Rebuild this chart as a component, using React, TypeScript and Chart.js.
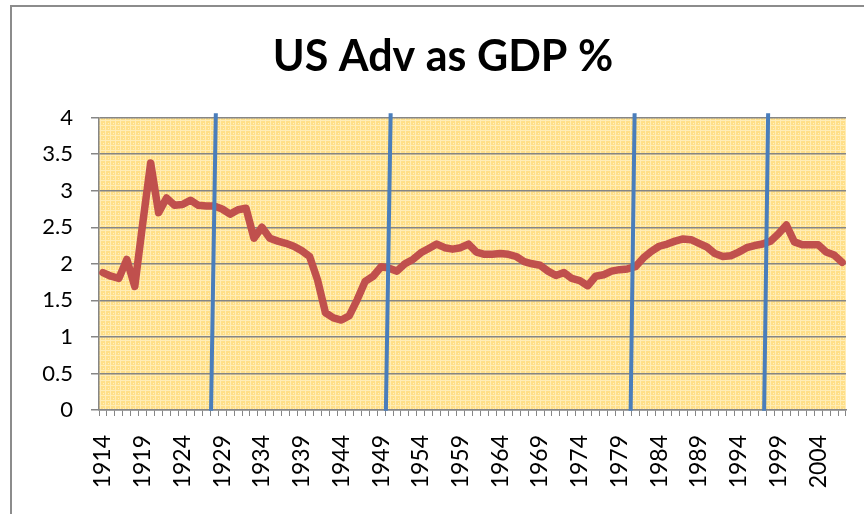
import React, { useEffect, useRef } from "react";
import { Chart, registerables } from "chart.js";

Chart.register(...registerables);

const START_YEAR = 1914;

// US advertising spending as % of GDP, 1914-2007
const adSharePct: number[] = [
  1.88, 1.83, 1.80, 2.06, 1.69, 2.55, 3.38, 2.70, 2.90, 2.80, // 1914-1923
  2.81, 2.87, 2.80, 2.79, 2.79, 2.75, 2.68, 2.74, 2.76, 2.35, // 1924-1933
  2.50, 2.35, 2.31, 2.28, 2.24, 2.18, 2.10, 1.78, 1.33, 1.26, // 1934-1943
  1.23, 1.29, 1.51, 1.76, 1.83, 1.96, 1.94, 1.90, 2.00, 2.06, // 1944-1953
  2.15, 2.21, 2.27, 2.22, 2.20, 2.22, 2.27, 2.16, 2.13, 2.13, // 1954-1963
  2.14, 2.13, 2.10, 2.03, 2.00, 1.98, 1.90, 1.84, 1.88, 1.80, // 1964-1973
  1.77, 1.70, 1.83, 1.85, 1.90, 1.92, 1.93, 1.96, 2.08, 2.17, // 1974-1983
  2.24, 2.27, 2.31, 2.34, 2.33, 2.28, 2.23, 2.14, 2.10, 2.11, // 1984-1993
  2.16, 2.22, 2.25, 2.27, 2.31, 2.41, 2.53, 2.30, 2.26, 2.26, // 1994-2003
  2.26, 2.16, 2.12, 2.02, // 2004-2007
];

const yearLabels: string[] = adSharePct.map((_, i) => String(START_YEAR + i));

// Hand-drawn vertical marker lines (slightly slanted), in year units
const markerTopYears = [1928.2, 1950.2, 1980.9, 1997.7];
const markerBottomYears = [1927.6, 1949.6, 1980.4, 1997.2];
const markerTopValue = 4.06;
const markerBottomValue = -0.01;

const Y_MIN = 0;
const Y_MAX = 4;
const Y_STEP = 0.5;
const LABEL_EVERY = 5;

function makePattern(ctx: CanvasRenderingContext2D): CanvasPattern | string {
  const c = document.createElement("canvas");
  c.width = 5;
  c.height = 5;
  const p = c.getContext("2d");
  if (!p) return "#FFE69C";
  p.fillStyle = "#FFDF88";
  p.fillRect(0, 0, 5, 5);
  p.fillStyle = "#FFEDB6";
  p.fillRect(0, 0, 5, 1);
  p.fillRect(0, 0, 1, 5);
  p.fillStyle = "#FFF0C2";
  p.fillRect(3, 3, 1, 1);
  return ctx.createPattern(c, "repeat") || "#FFE69C";
}

const backgroundPlugin = {
  id: "patternBg",
  beforeDraw(chart: any) {
    const { ctx, chartArea } = chart;
    if (!chartArea) return;
    ctx.save();
    ctx.fillStyle = makePattern(ctx);
    ctx.fillRect(chartArea.left, chartArea.top, chartArea.right - chartArea.left, chartArea.bottom - chartArea.top);
    ctx.restore();
  },
};

const markerPlugin = {
  id: "markerLines",
  afterDatasetsDraw(chart: any) {
    const { ctx } = chart;
    const xs = chart.scales.x;
    const ys = chart.scales.y;
    ctx.save();
    ctx.strokeStyle = "#4A7EBB";
    ctx.lineWidth = 4;
    ctx.lineCap = "butt";
    for (let i = 0; i < markerTopYears.length; i++) {
      const x1 = xs.getPixelForValue(markerTopYears[i] - START_YEAR);
      const x2 = xs.getPixelForValue(markerBottomYears[i] - START_YEAR);
      const y1 = ys.getPixelForValue(markerTopValue);
      const y2 = ys.getPixelForValue(markerBottomValue);
      ctx.beginPath();
      ctx.moveTo(x1, y1);
      ctx.lineTo(x2, y2);
      ctx.stroke();
    }
    ctx.restore();
  },
};

export default function App() {
  const canvasRef = useRef<HTMLCanvasElement | null>(null);

  useEffect(() => {
    const canvas = canvasRef.current;
    if (!canvas) return;
    const chart = new Chart(canvas, {
      type: "line",
      data: {
        labels: yearLabels,
        datasets: [
          {
            label: "US Adv as GDP %",
            data: adSharePct,
            borderColor: "#C0504D",
            backgroundColor: "#C0504D",
            borderWidth: 7.5,
            borderJoinStyle: "round",
            borderCapStyle: "round",
            pointRadius: 0,
            tension: 0,
            fill: false,
          },
        ],
      },
      options: {
        animation: false,
        responsive: false,
        maintainAspectRatio: false,
        devicePixelRatio: 1,
        layout: { padding: { left: 40, right: 18, top: 0, bottom: 0 } },
        plugins: {
          legend: { display: false },
          tooltip: { enabled: false },
          title: {
            display: true,
            text: "US Adv as GDP %",
            color: "#000000",
            font: { family: "Lato", size: 43, weight: "bold" },
            padding: { top: 31, bottom: 35 },
          },
        },
        scales: {
          x: {
            type: "category",
            offset: true,
            grid: {
              display: true,
              drawOnChartArea: false,
              drawTicks: true,
              tickLength: 6,
              color: "#868686",
              offset: true,
            },
            border: { display: true, color: "#868686", width: 1.5 },
            ticks: {
              autoSkip: false,
              maxRotation: 90,
              minRotation: 90,
              padding: 19,
              color: "#000000",
              font: { family: "Lato", size: 23 },
              callback: (_v: any, i: number) => (i % LABEL_EVERY === 0 ? yearLabels[i] : ""),
            },
            afterFit: (s: any) => {
              s.height = 104;
              s.paddingLeft = 0;
              s.paddingRight = 0;
            },
          },
          y: {
            min: Y_MIN,
            max: Y_MAX,
            grid: {
              color: "#868686",
              lineWidth: 1.5,
              drawTicks: true,
              tickLength: 8,
            },
            border: { display: true, color: "#868686", width: 1.5 },
            ticks: {
              stepSize: Y_STEP,
              padding: 18,
              color: "#000000",
              font: { family: "Lato", size: 22 },
              callback: (v: any) => String(v),
            },
            afterFit: (s: any) => {
              s.width = 59;
              s.paddingTop = 0;
              s.paddingBottom = 0;
            },
          },
        },
      },
      plugins: [backgroundPlugin, markerPlugin],
    } as any);
    return () => chart.destroy();
  }, []);

  return (
    <div style={{ position: "absolute", left: 0, top: 0, width: 864, height: 514, background: "#FFFFFF", overflow: "hidden" }}>
      <div
        style={{
          position: "absolute",
          left: 10,
          top: 5,
          width: 900,
          height: 600,
          border: "2px solid #8C8C8C",
          boxSizing: "border-box",
        }}
      />
      <canvas ref={canvasRef} width={864} height={514} style={{ position: "absolute", left: 0, top: 0 }} />
    </div>
  );
}
